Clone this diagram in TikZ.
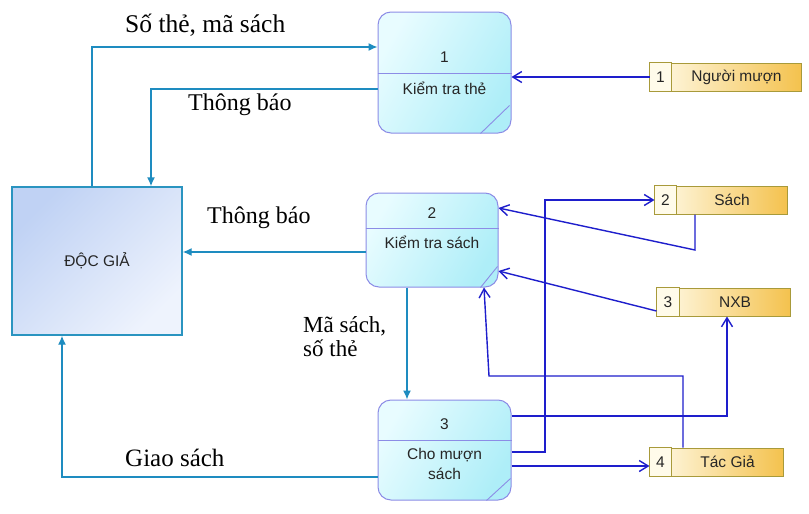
\documentclass[tikz,border=0pt]{standalone}
\usepackage{fontspec}
\setmainfont{Liberation Serif}
\newfontfamily\arialf{Liberation Sans}
\usetikzlibrary{arrows.meta,calc}
\definecolor{tealc}{HTML}{1E8CC0}
\definecolor{bluec}{HTML}{1E1ECC}
\definecolor{procb}{HTML}{8C8CE6}
\definecolor{procl}{HTML}{E8FCFF}
\definecolor{procr}{HTML}{AEEEF8}
\definecolor{storeb}{HTML}{A89A3A}
\definecolor{storel}{HTML}{FFFBEA}
\definecolor{storer}{HTML}{F4C24E}
\definecolor{dgl}{HTML}{C0D2F4}
\definecolor{dgr}{HTML}{EEF3FD}
\definecolor{dgb}{HTML}{2A94C0}
\tikzset{
  proc/.style={draw=procb, line width=1pt, rounded corners=13pt, left color=procl, right color=procr, shading angle=60, inner sep=0pt},
  procline/.style={draw=procb, line width=0.9pt},
  ptext/.style={font=\arialf\fontsize{15.5}{18}\selectfont, text=black!85, inner sep=0pt, align=center},
  store/.style={draw=storeb, line width=1pt, left color=storel, right color=storer, inner sep=0pt},
  cellbox/.style={draw=storeb, line width=1pt, fill=storel},
  ext/.style={draw=dgb, line width=1.4pt, left color=dgl, right color=dgr, shading angle=45, inner sep=0pt},
  lbl/.style={font=\fontsize{24}{27}\selectfont, text=black, inner sep=0pt, align=left},
  tl/.style={draw=tealc, line width=1.4pt, -{Latex[length=9pt,width=8pt]}},
  bl/.style={draw=bluec, line width=1.4pt, -{Straight Barb[length=9pt,width=11pt]}},
}
\begin{document}
\begin{tikzpicture}[x=1pt,y=-1pt]
\useasboundingbox (0,0) rectangle (809,514);
\fill[white] (0,0) rectangle (809,514);

% external entity
\node[ext, minimum width=170pt, minimum height=148pt] (dg) at (97,261) {};
\node[ptext] (dgt) at (dg.center) {ĐỘC GIẢ};

% process 1
\node[proc, minimum width=133pt, minimum height=121pt] (p1) at (444.5,72.5) {};
\draw[procline] (p1.west |- 0,73) -- (p1.east |- 0,73);
\draw[procline] ($(p1.south east)+(-31,0)$) -- ($(p1.south east)+(-2,-28)$);
\node[ptext] (p1n) at (444.5,57) {1};
\node[ptext] (p1t) at (444.5,88) {Kiểm tra thẻ};

% process 2
\node[proc, minimum width=132pt, minimum height=94pt] (p2) at (432,240) {};
\draw[procline] (p2.west |- 0,228) -- (p2.east |- 0,228);
\draw[procline] ($(p2.south east)+(-18,0)$) -- ($(p2.south east)+(-1,-21)$);
\node[ptext] (p2n) at (432,213) {2};
\node[ptext] (p2t) at (432,242) {Kiểm tra sách};

% process 3
\node[proc, minimum width=133pt, minimum height=100pt] (p3) at (444.5,450) {};
\draw[procline] (p3.west |- 0,440) -- (p3.east |- 0,440);
\draw[procline] ($(p3.south east)+(-25,0)$) -- ($(p3.south east)+(-1,-22)$);
\node[ptext] (p3n) at (444.5,424) {3};
\node[ptext] (p3t) at (444.5,464) {Cho mượn\\[2pt]sách};

% data stores
\node[store, minimum width=151pt, minimum height=28pt] (s1) at (725.5,77) {};
\draw[cellbox] (s1.north west) rectangle ($(s1.south west)+(22,0)$);
\node[ptext] (s1n) at ($(s1.west)+(11,0)$) {1};
\node[ptext] (s1t) at ($(s1.center)+(11,0)$) {Người mượn};

\node[store, minimum width=132pt, minimum height=28pt] (s2) at (721,200) {};
\draw[cellbox] (s2.north west) rectangle ($(s2.south west)+(22,0)$);
\node[ptext] (s2n) at ($(s2.west)+(11,0)$) {2};
\node[ptext] (s2t) at ($(s2.center)+(11,0)$) {Sách};

\node[store, minimum width=133pt, minimum height=28pt] (s3) at (723.5,302) {};
\draw[cellbox] (s3.north west) rectangle ($(s3.south west)+(23,0)$);
\node[ptext] (s3n) at ($(s3.west)+(11.5,0)$) {3};
\node[ptext] (s3t) at ($(s3.center)+(11.5,0)$) {NXB};

\node[store, minimum width=133pt, minimum height=28pt] (s4) at (716.5,462) {};
\draw[cellbox] (s4.north west) rectangle ($(s4.south west)+(22,0)$);
\node[ptext] (s4n) at ($(s4.west)+(11,0)$) {4};
\node[ptext] (s4t) at ($(s4.center)+(11,0)$) {Tác Giả};

% teal flows with ĐỘC GIẢ
\draw[tl] (dg.north -| 92,0) |- (p1.west |- 0,47);
\node[lbl, anchor=west, font=\fontsize{25.5}{28}\selectfont] (l1) at (125,25) {Số thẻ, mã sách};
\draw[tl] (p1.west |- 0,89) -| (dg.north -| 151,0);
\node[lbl, anchor=west] (l2) at (188,105) {Thông báo};
\draw[tl] (p2.west |- 0,252) -- (dg.east |- 0,252);
\node[lbl, anchor=west] (l3) at (207,218) {Thông báo};
\draw[tl] (p2.south -| 407,0) -- (p3.north -| 407,0);
\node[lbl, anchor=north west, font=\fontsize{23}{26}\selectfont] (l4) at (303,316) {Mã sách,\\[-2pt]số thẻ};
\draw[tl] (p3.west |- 0,477) -| (dg.south -| 62,0);
\node[lbl, anchor=west, font=\fontsize{25}{28}\selectfont] (l5) at (125,458) {Giao sách};

% blue flows with data stores
\draw[bl] (s1.west) -- (p1.east |- s1.west);
\draw[bl] (p3.east |- 0,452) -- (545,452) -- (545,200) -- (s2.west);
\draw[bl] (s2.south -| 695,0) -- (695,250) -- (p2.east |- 0,208);
\draw[bl] (s3.west |- 0,311) -- (p2.east |- 0,271);
\draw[bl] (p3.east |- 0,416) -| (s3.south -| 727,0);
\draw[bl] (s4.north -| 683,0) |- (489,376) -- (p2.south -| 484,0);
\draw[bl] (p3.east |- 0,466) -- (s4.west |- 0,466);
\end{tikzpicture}
\end{document}
